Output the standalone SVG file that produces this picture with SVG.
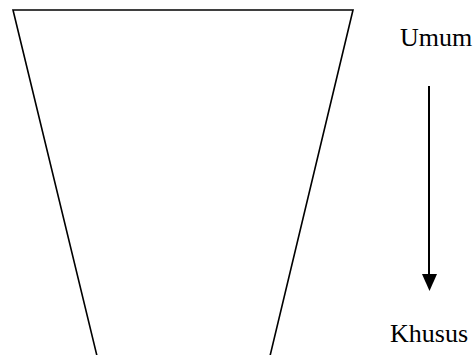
<svg xmlns="http://www.w3.org/2000/svg" width="473" height="355" viewBox="0 0 473 355">
<style>
.ln{stroke:#000;stroke-width:1.6;fill:none}
.t{font-family:"Liberation Serif","Times New Roman",serif;font-size:26px;fill:#000}
</style>
<rect width="473" height="355" fill="#fff"/>
<g id="funnel">
<path class="ln" d="M97,356 L13,10 L353,10 L270,356"/>
</g>
<g id="umum"><text class="t" x="400" y="46">Umum</text></g>
<g id="khusus"><text class="t" x="390" y="342">Khusus</text></g>
<g id="connectors">
<line x1="429" y1="86" x2="429" y2="276" stroke="#000" stroke-width="2"/>
<path d="M422,274 L437,274 L429.5,291 z" fill="#000"/>
</g>
</svg>
